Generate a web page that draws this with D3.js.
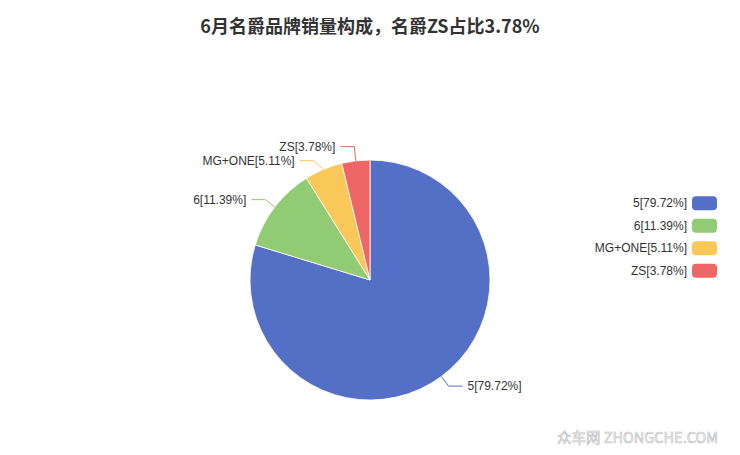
<!DOCTYPE html>
<html>
<head>
<meta charset="utf-8">
<script src="https://cdn.jsdelivr.net/npm/d3@7"></script>
<style>
  html, body { margin: 0; padding: 0; background: #fff; }
  svg { display: block; font-family: "Liberation Sans", Arial, "Noto Sans CJK SC", sans-serif; }
</style>
</head>
<body>
<svg id="chart" width="740" height="455"></svg>
<script>
// chart data
var names = ["5", "6", "MG+ONE", "ZS"];
var shares = [79.72, 11.39, 5.11, 3.78];
var colors = ["#5470c6", "#91cc75", "#fac858", "#ee6666"];
var title = "6月名爵品牌销量构成，名爵ZS占比3.78%";

var W = 740, H = 455;
var cx = 370, cy = 280, R = 120;
var len1 = 12, len2 = 14, minGap = 14;

var svg = d3.select("#chart");

svg.append("text")
    .attr("x", W / 2)
    .attr("y", 33)
    .attr("text-anchor", "middle")
    .style("font-family", "'Noto Sans CJK SC', 'Liberation Sans', sans-serif")
    .style("font-size", "18px")
    .style("font-weight", "bold")
    .style("fill", "#333")
    .text(title);

var rows = names.map(function(n, i) {
  return { name: n, value: shares[i], color: colors[i], label: n + "[" + shares[i].toFixed(2) + "%]" };
});

var pie = d3.pie().sort(null).value(function(d) { return d.value; });
var arc = d3.arc().innerRadius(0).outerRadius(R);
var arcs = pie(rows);

var g = svg.append("g").attr("transform", "translate(" + cx + "," + cy + ")");

g.selectAll("path.slice")
    .data(arcs)
  .enter().append("path")
    .attr("class", "slice")
    .attr("d", arc)
    .attr("fill", function(d) { return d.data.color; })
    .attr("stroke", "#fff")
    .attr("stroke-width", 0.8)
    .attr("stroke-linejoin", "round");

// label layout, loosely like echarts: radial stub, then spread labels on each side
var labs = arcs.map(function(d) {
  var a = (d.startAngle + d.endAngle) / 2;
  var s = Math.sin(a), c = -Math.cos(a);
  return {
    d: d,
    right: s >= 0,
    ex: R * s, ey: R * c,
    bx: (R + len1) * s, by: (R + len1) * c
  };
});

function spread(list) {
  list.sort(function(a, b) { return a.by - b.by; });
  list.forEach(function(l) { l.y = l.by; });
  for (var k = 0; k < 20; k++) {
    var moved = false;
    for (var i = 1; i < list.length; i++) {
      var gap = list[i].y - list[i - 1].y;
      if (gap < minGap) {
        var push = (minGap - gap) / 2;
        list[i - 1].y -= push;
        list[i].y += push;
        moved = true;
      }
    }
    if (!moved) break;
  }
  list.forEach(function(l) {
    if (Math.abs(l.y - l.by) > 0.5) {
      var rr = R + len1;
      var dx = Math.sqrt(Math.max(0, rr * rr - l.y * l.y));
      if (dx > 0) l.bx = l.right ? dx : -dx;
      l.by = l.y;
    }
  });
}
spread(labs.filter(function(l) { return l.right; }));
spread(labs.filter(function(l) { return !l.right; }));

labs.forEach(function(l) {
  var dir = l.right ? 1 : -1;
  var hx = l.bx + dir * len2;
  g.append("polyline")
      .attr("points", [[l.ex, l.ey], [l.bx, l.by], [hx, l.by]].map(function(p) { return p.join(","); }).join(" "))
      .attr("fill", "none")
      .attr("stroke", l.d.data.color)
      .attr("stroke-width", 1);
  g.append("text")
      .attr("x", hx + dir * 5)
      .attr("y", l.by)
      .attr("dy", "0.35em")
      .attr("text-anchor", l.right ? "start" : "end")
      .style("font-size", "12px")
      .style("fill", "#333")
      .text(l.d.data.label);
});

// legend
var ly = d3.scaleBand()
    .domain(names)
    .range([192, 282])
    .paddingInner(0);

var leg = svg.append("g").selectAll("g")
    .data(rows)
  .enter().append("g")
    .attr("transform", function(d) { return "translate(0," + (ly(d.name) + ly.bandwidth() / 2) + ")"; });

leg.append("rect")
    .attr("x", 692)
    .attr("y", -7)
    .attr("width", 25)
    .attr("height", 14)
    .attr("rx", 4)
    .attr("fill", function(d) { return d.color; });

leg.append("text")
    .attr("x", 687)
    .attr("dy", "0.35em")
    .attr("text-anchor", "end")
    .style("font-size", "12px")
    .style("fill", "#333")
    .text(function(d) { return d.label; });

// watermark
svg.append("text")
    .attr("x", 718)
    .attr("y", 443)
    .attr("text-anchor", "end")
    .style("font-family", "'Noto Sans CJK SC', 'DejaVu Sans', sans-serif")
    .style("font-size", "14.5px")
    .style("fill", "#fff")
    .style("stroke", "#c4c4c4")
    .style("stroke-width", 0.7)
    .text("众车网 ZHONGCHE.COM");
</script>
</body>
</html>
